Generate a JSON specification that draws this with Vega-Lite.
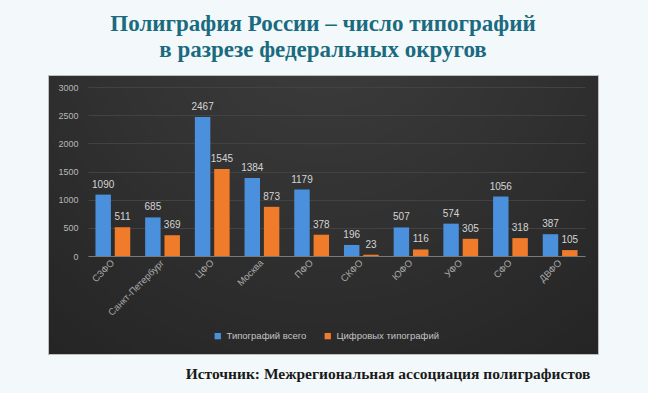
{
  "$schema": "https://vega.github.io/schema/vega-lite/v6.json",
  "autosize": {"type": "none"},
  "width": 550,
  "height": 279,
  "padding": {"left": 48, "top": 75, "right": 50, "bottom": 39},
  "background": "#f3f9fb",
  "title": {
    "text": ["Полиграфия России – число типографий", "в разрезе федеральных округов"],
    "font": "Liberation Serif",
    "fontSize": 23,
    "fontWeight": "bold",
    "color": "#1a6a80",
    "lineHeight": 26,
    "anchor": "middle",
    "offset": 13
  },
  "data": {
    "values": [
      {"region": "СЗФО", "series": "Типографий всего", "value": 1090},
      {"region": "СЗФО", "series": "Цифровых типографий", "value": 511},
      {"region": "Санкт-Петербург", "series": "Типографий всего", "value": 685},
      {"region": "Санкт-Петербург", "series": "Цифровых типографий", "value": 369},
      {"region": "ЦФО", "series": "Типографий всего", "value": 2467},
      {"region": "ЦФО", "series": "Цифровых типографий", "value": 1545},
      {"region": "Москва", "series": "Типографий всего", "value": 1384},
      {"region": "Москва", "series": "Цифровых типографий", "value": 873},
      {"region": "ПФО", "series": "Типографий всего", "value": 1179},
      {"region": "ПФО", "series": "Цифровых типографий", "value": 378},
      {"region": "СКФО", "series": "Типографий всего", "value": 196},
      {"region": "СКФО", "series": "Цифровых типографий", "value": 23},
      {"region": "ЮФО", "series": "Типографий всего", "value": 507},
      {"region": "ЮФО", "series": "Цифровых типографий", "value": 116},
      {"region": "УФО", "series": "Типографий всего", "value": 574},
      {"region": "УФО", "series": "Цифровых типографий", "value": 305},
      {"region": "СФО", "series": "Типографий всего", "value": 1056},
      {"region": "СФО", "series": "Цифровых типографий", "value": 318},
      {"region": "ДВФО", "series": "Типографий всего", "value": 387},
      {"region": "ДВФО", "series": "Цифровых типографий", "value": 105}
    ]
  },
  "encoding": {
    "x": {
      "field": "region",
      "type": "nominal",
      "sort": null,
      "scale": {"range": [40, 537], "paddingInner": 0.3, "paddingOuter": 0.15},
      "axis": {
        "offset": -98,
        "labelAngle": -45,
        "labelAlign": "right",
        "labelBaseline": "middle",
        "labelColor": "#a8a8a8",
        "labelFont": "Liberation Sans",
        "labelFontSize": 9.5,
        "labelPadding": 5,
        "ticks": false,
        "domainColor": "#7a7a7a",
        "domainWidth": 1,
        "title": "Источник: Межрегиональная ассоциация полиграфистов",
        "titleFont": "Liberation Serif",
        "titleFontSize": 15.5,
        "titleFontWeight": "bold",
        "titleColor": "#1a1a1a",
        "titleX": 542,
        "titleY": 122,
        "titleAlign": "right",
        "titleBaseline": "alphabetic",
        "titleAnchor": null
      }
    },
    "xOffset": {
      "field": "series",
      "type": "nominal",
      "scale": {"paddingInner": 0.2, "paddingOuter": 0}
    },
    "y": {
      "field": "value",
      "type": "quantitative",
      "scale": {"domain": [0, 3000], "range": [181, 12], "nice": false, "zero": false},
      "axis": {
        "offset": -40,
        "values": [0, 500, 1000, 1500, 2000, 2500, 3000],
        "format": "d",
        "title": null,
        "domain": false,
        "ticks": false,
        "labelPadding": 10,
        "labelColor": "#b8b8b8",
        "labelFont": "Liberation Sans",
        "labelFontSize": 9,
        "gridColor": "#424242",
        "gridWidth": 1
      }
    },
    "color": {
      "field": "series",
      "type": "nominal",
      "scale": {"domain": ["Типографий всего", "Цифровых типографий"], "range": ["#4a90dc", "#ef7b2b"]},
      "legend": {
        "title": null,
        "orient": "none",
        "direction": "horizontal",
        "legendX": 165,
        "legendY": 256,
        "symbolType": "square",
        "symbolSize": 40,
        "symbolStrokeWidth": 0,
        "labelColor": "#c4c4c4",
        "labelFont": "Liberation Sans",
        "labelFontSize": 9.5,
        "columnPadding": 16,
        "symbolOffset": 0
      }
    }
  },
  "layer": [
    {"mark": {"type": "bar"}},
    {
      "mark": {"type": "text", "baseline": "bottom", "dy": -5, "font": "Liberation Sans", "fontSize": 10, "fill": "#d4d4d4"},
      "encoding": {"text": {"field": "value", "type": "quantitative"}, "color": {"value": "#d4d4d4"}}
    }
  ],
  "config": {
    "view": {
      "fill": {
        "gradient": "radial",
        "x1": 0.5, "y1": 0.1, "r1": 0,
        "x2": 0.5, "y2": 0.1, "r2": 1,
        "stops": [
          {"offset": 0, "color": "#3e3e3e"},
          {"offset": 1, "color": "#1f1f1f"}
        ]
      },
      "stroke": "#bdbdbd",
      "strokeWidth": 1
    }
  }
}
